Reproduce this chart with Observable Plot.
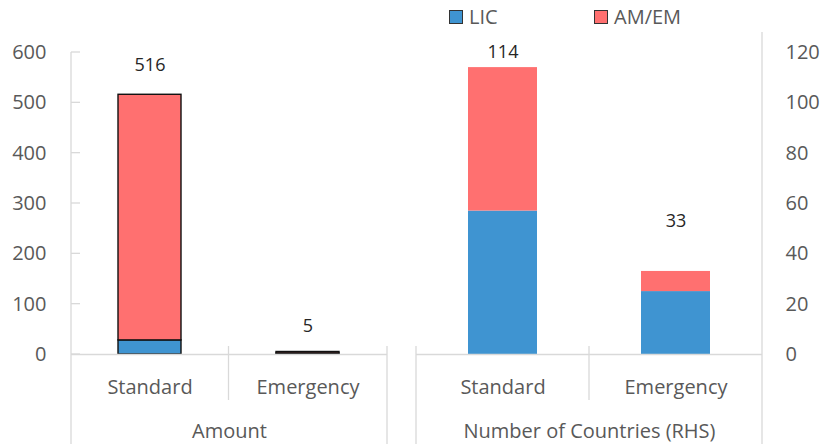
<!DOCTYPE html>
<html><head><meta charset="utf-8">
<script src="https://cdn.jsdelivr.net/npm/d3@7"></script>
<script src="https://cdn.jsdelivr.net/npm/@observablehq/plot@0.6"></script>
<style>
body{margin:0;background:#fff;font-family:"Open Sans",sans-serif}
#wrap{position:relative;width:823px;height:444px;overflow:hidden}
#left,#right{position:absolute;top:0}
#left{left:0}
#right{left:400px}
.lg{position:absolute;top:3px;display:flex;align-items:center;font-size:20px;color:#595959}
.sw{width:12px;height:12px;border:1px solid #333;margin-right:6px}
</style></head><body>
<div id="wrap"><div id="left"></div><div id="right"></div><div id="legend"></div></div>
<script>
const categories = ["Standard", "Emergency"];
const groups = ["Amount", "Number of Countries (RHS)"];
const seriesNames = ["LIC", "AM/EM"];
const seriesColors = ["#3F94D1", "#FF7070"];
const amountLIC = [28, 2];
const amountAMEM = [488, 3];
const amountTotals = [516, 5];
const countriesLIC = [57, 25];
const countriesAMEM = [57, 8];
const countriesTotals = [114, 33];
const amountTicks = [0, 100, 200, 300, 400, 500, 600];
const countryTicks = [0, 20, 40, 60, 80, 100, 120];

const labelDy = {amount: [-30, -26], countries: [-15, -50]};
const gridColor = "#d9d9d9";
const textColor = "#595959";

function rows(lic, amem) {
  const out = [];
  categories.forEach((c, i) => {
    out.push({category: c, series: seriesNames[0], value: lic[i]});
    out.push({category: c, series: seriesNames[1], value: amem[i]});
  });
  return out;
}

function makePanel({data, totals, ticks, group, dys, width, marginLeft, marginRight, axisAnchor, stroke, tickPadding}) {
  const totalsData = categories.map((c, i) => ({category: c, total: totals[i], dy: dys[i]}));
  const plot = Plot.plot({
    width, height: 444,
    marginLeft, marginRight, marginTop: 52, marginBottom: 90,
    style: {fontFamily: "Open Sans, sans-serif", fontSize: "20px", color: textColor, background: "transparent"},
    x: {type: "band", domain: categories, paddingInner: 0.6, paddingOuter: 0.3, label: null},
    y: {domain: [ticks[0], ticks[ticks.length - 1]], label: null},
    color: {domain: seriesNames, range: seriesColors},
    marks: [
      Plot.axisY({anchor: axisAnchor, ticks, tickSize: 0, tickPadding, fontSize: 20, fill: textColor}),
      Plot.axisX({tickSize: 0, tickPadding: 25, fontSize: 20, fill: textColor}),
      Plot.barY(data, {x: "category", y: "value", fill: "series", stroke: stroke ? "#111" : "none", strokeWidth: 1.4}),
      Plot.ruleY([0], {stroke: gridColor, strokeWidth: 1.3}),
      ...totalsData.map(d => Plot.text([d], {x: "category", y: "total", text: d => String(d.total), dy: d.dy, fontSize: 18, fill: "#262626", fontWeight: 400})),
      Plot.text([group], {frameAnchor: "bottom", dy: 83, fontSize: 20, fill: textColor, text: d => d})
    ]
  });
  return plot;
}

function decorate(plot, {ticks, showTicks, leftEdgeFull, rightEdgeFull, rightAxisTop}) {
  const x = plot.scale("x"), y = plot.scale("y");
  const svg = d3.select(plot);
  const g = svg.append("g").attr("stroke", gridColor).attr("stroke-width", 1.3);
  const x0 = x.range[0], x1 = x.range[1];
  const base = y.apply(0);
  const step = x.apply(categories[1]) - x.apply(categories[0]);
  const mid = x.apply(categories[1]) - (step - x.bandwidth) / 2;
  g.append("line").attr("x1", mid).attr("x2", mid).attr("y1", base - 8).attr("y2", base + 46);
  if (leftEdgeFull) {
    g.append("line").attr("x1", x0).attr("x2", x0).attr("y1", y.apply(ticks[ticks.length - 1])).attr("y2", 444);
  } else {
    g.append("line").attr("x1", x0).attr("x2", x0).attr("y1", base - 8).attr("y2", 444);
  }
  if (rightEdgeFull) {
    g.append("line").attr("x1", x1).attr("x2", x1).attr("y1", y.apply(ticks[ticks.length - 1]) - rightAxisTop).attr("y2", 444);
  } else {
    g.append("line").attr("x1", x1).attr("x2", x1).attr("y1", base - 8).attr("y2", 444);
  }
  if (showTicks) {
    ticks.forEach(t => {
      g.append("line").attr("x1", x0).attr("x2", x0 + 9).attr("y1", y.apply(t)).attr("y2", y.apply(t));
    });
  }
}

const left = makePanel({
  data: rows(amountLIC, amountAMEM), totals: amountTotals, ticks: amountTicks, group: groups[0],
  dys: labelDy.amount, width: 400, marginLeft: 71, marginRight: 13, axisAnchor: "left", stroke: true, tickPadding: 25
});
decorate(left, {ticks: amountTicks, showTicks: true, leftEdgeFull: true, rightEdgeFull: false});
document.getElementById("left").appendChild(left);

const right = makePanel({
  data: rows(countriesLIC, countriesAMEM), totals: countriesTotals, ticks: countryTicks, group: groups[1],
  dys: labelDy.countries, width: 423, marginLeft: 16, marginRight: 61, axisAnchor: "right", stroke: false, tickPadding: 23
});
decorate(right, {ticks: countryTicks, showTicks: false, leftEdgeFull: false, rightEdgeFull: true, rightAxisTop: 20});
document.getElementById("right").appendChild(right);

const legendPos = [449, 594];
const legend = document.getElementById("legend");
seriesNames.forEach((s, i) => {
  const item = document.createElement("div");
  item.className = "lg";
  item.style.left = legendPos[i] + "px";
  item.innerHTML = `<span class="sw" style="background:${seriesColors[i]}"></span><span>${s}</span>`;
  legend.appendChild(item);
});
</script>
</body></html>
